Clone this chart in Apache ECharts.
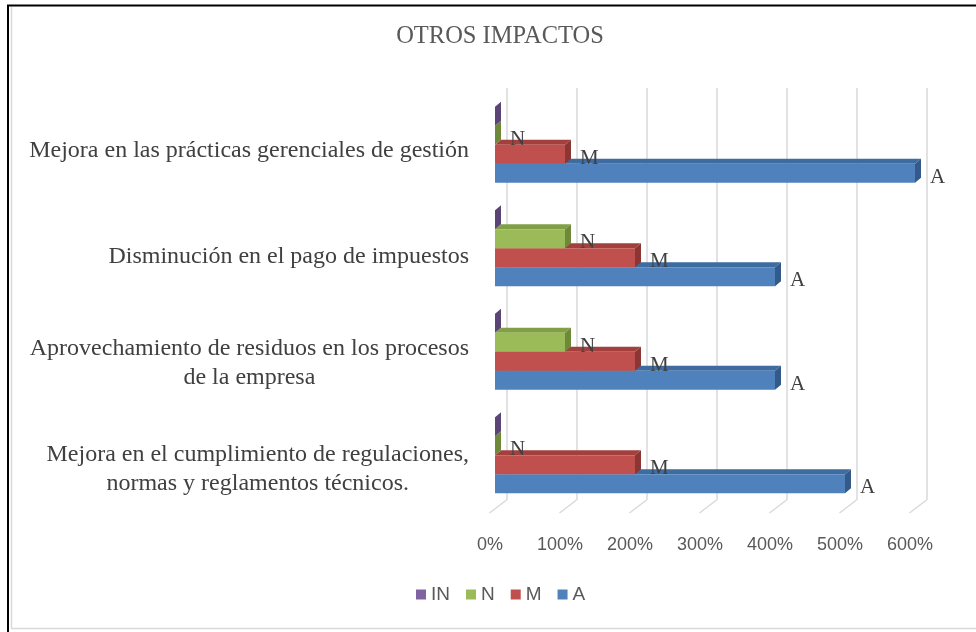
<!DOCTYPE html>
<html>
<head>
<meta charset="utf-8">
<script src="https://cdn.jsdelivr.net/npm/echarts@6/dist/echarts.min.js"></script>
<style>
  html, body { margin: 0; padding: 0; background: #ffffff; }
  #chart { width: 976px; height: 632px; }
</style>
</head>
<body>
<div id="chart"></div>
<script>
// Categories, listed top to bottom
const categories = [
  'Mejora en las prácticas gerenciales de gestión',
  'Disminución en el pago de impuestos',
  'Aprovechamiento de residuos en los procesos\nde la empresa',
  'Mejora en el cumplimiento de regulaciones,\nnormas y reglamentos técnicos.'
];

// Series values (percent)
const seriesIN = [0, 0, 0, 0];
const seriesN = [0, 100, 100, 0];
const seriesM = [100, 200, 200, 200];
const seriesA = [600, 400, 400, 500];

// Value axis ticks
const tickValues = [0, 100, 200, 300, 400, 500, 600];

// 3D bar look
const DEPTH_X = 6;
const DEPTH_Y = 5;
const BAR_FRAC = 19 / 103.5;

const palette = {
  IN: { front: '#8064A2', top: '#6A518A', side: '#5A4576' },
  N:  { front: '#9BBB59', top: '#819F45', side: '#6E893A' },
  M:  { front: '#C0504D', top: '#A3403D', side: '#8C3633' },
  A:  { front: '#4F81BD', top: '#3E6BA0', side: '#335A88' }
};

const serifFont = '"Liberation Serif", "Times New Roman", serif';
const sansFont = '"Liberation Sans", Arial, sans-serif';

function barRenderer(slot, colors, label) {
  return function (params, api) {
    const val = api.value(0);
    const cat = api.value(1);
    const p0 = api.coord([0, cat]);
    const p1 = api.coord([val, cat]);
    const band = api.size([0, 1])[1];
    const h = band * BAR_FRAC;
    const y = p0[1] - 2 * h + slot * h;
    const x0 = p0[0];
    const x1 = p1[0];
    const children = [
      {
        type: 'polygon',
        shape: { points: [[x0, y], [x1, y], [x1 + DEPTH_X, y - DEPTH_Y], [x0 + DEPTH_X, y - DEPTH_Y]] },
        style: { fill: colors.top }
      },
      {
        type: 'polygon',
        shape: { points: [[x1, y], [x1 + DEPTH_X, y - DEPTH_Y], [x1 + DEPTH_X, y + h - DEPTH_Y], [x1, y + h]] },
        style: { fill: colors.side }
      },
      {
        type: 'rect',
        shape: { x: x0, y: y, width: x1 - x0, height: h },
        style: { fill: colors.front }
      }
    ];
    if (label) {
      children.push({
        type: 'text',
        x: x1 + DEPTH_X + 9,
        y: y + h / 2 + 4,
        style: {
          text: label,
          fill: '#404040',
          font: '21px ' + serifFont,
          align: 'left',
          verticalAlign: 'middle'
        }
      });
    }
    return { type: 'group', children: children };
  };
}

function barSeries(name, values, slot, label, z) {
  return {
    name: name,
    type: 'custom',
    xAxisIndex: 0,
    yAxisIndex: 0,
    z: z,
    itemStyle: { color: palette[name].front },
    renderItem: barRenderer(slot, palette[name], label),
    encode: { x: 0, y: 1 },
    data: values.map((v, i) => [v, i])
  };
}

const chart = echarts.init(document.getElementById('chart'), null, { renderer: 'canvas' });

chart.setOption({
  animation: false,
  backgroundColor: '#ffffff',
  title: {
    text: 'OTROS IMPACTOS',
    left: 500,
    top: 24,
    textAlign: 'center',
    padding: 0,
    textStyle: { fontFamily: serifFont, fontSize: 24.5, fontWeight: 'normal', color: '#595959' }
  },
  legend: {
    top: 585,
    left: 416,
    padding: 0,
    icon: 'rect',
    itemWidth: 10,
    itemHeight: 10,
    itemGap: 16,
    textStyle: { fontFamily: sansFont, fontSize: 19, color: '#595959' },
    data: ['IN', 'N', 'M', 'A']
  },
  grid: [
    // bar front plane
    { left: 495, top: 93, width: 420, height: 414 },
    // back wall
    { left: 506.5, top: 88, width: 420, height: 412 },
    // floor front edge
    { left: 490, top: 99, width: 420, height: 414 },
    // category labels
    { left: 495, top: 98, width: 420, height: 424 }
  ],
  xAxis: [
    { gridIndex: 0, type: 'value', min: 0, max: 600, interval: 100, show: false },
    {
      gridIndex: 1, type: 'value', min: 0, max: 600, interval: 100,
      axisLine: { show: false }, axisTick: { show: false }, axisLabel: { show: false },
      splitLine: { show: true, lineStyle: { color: '#D9D9D9', width: 1.5 } }
    },
    {
      gridIndex: 2, type: 'value', min: 0, max: 600, interval: 100,
      axisLine: { show: false }, axisTick: { show: false }, splitLine: { show: false },
      axisLabel: {
        margin: 23,
        fontFamily: sansFont, fontSize: 18, color: '#595959',
        formatter: (v) => v + '%'
      }
    },
    { gridIndex: 3, type: 'value', min: 0, max: 600, show: false }
  ],
  yAxis: [
    { gridIndex: 0, type: 'category', data: categories, inverse: true, show: false },
    { gridIndex: 1, type: 'value', min: 0, max: 1, show: false },
    { gridIndex: 2, type: 'category', data: categories, inverse: true, show: false },
    {
      gridIndex: 3, type: 'category', data: categories, inverse: true,
      axisLine: { show: false }, axisTick: { show: false }, splitLine: { show: false },
      axisLabel: {
        margin: 26,
        align: 'right',
        formatter: (v) => v.split('\n').map((line) => '{c|' + line + '}').join('\n'),
        rich: {
          c: { align: 'center', fontFamily: serifFont, fontSize: 24, lineHeight: 29, color: '#404040' }
        }
      }
    }
  ],
  graphic: [
    { type: 'line', shape: { x1: 7, y1: 5.5, x2: 976, y2: 5.5 }, style: { stroke: '#000000', lineWidth: 2 }, z: 100 },
    { type: 'line', shape: { x1: 8, y1: 5, x2: 8, y2: 632 }, style: { stroke: '#000000', lineWidth: 2 }, z: 100 },
    { type: 'line', shape: { x1: 11.5, y1: 7, x2: 11.5, y2: 628 }, style: { stroke: '#D9D9D9', lineWidth: 1.5 }, z: 100 },
    { type: 'line', shape: { x1: 11, y1: 628.5, x2: 976, y2: 628.5 }, style: { stroke: '#D9D9D9', lineWidth: 1.5 }, z: 100 }
  ],
  series: [
    // floor ticks joining back wall to the front edge
    {
      type: 'custom',
      xAxisIndex: 1,
      yAxisIndex: 1,
      silent: true,
      z: 1,
      encode: { x: 0, y: 1 },
      data: tickValues.map((v) => [v, 0]),
      renderItem: function (params, api) {
        const p = api.coord([api.value(0), api.value(1)]);
        return {
          type: 'line',
          shape: { x1: p[0], y1: p[1], x2: p[0] - 17, y2: p[1] + 13 },
          style: { stroke: '#D9D9D9', lineWidth: 1.5 }
        };
      }
    },
    barSeries('IN', seriesIN, 0, null, 6),
    barSeries('N', seriesN, 1, 'N', 5),
    barSeries('M', seriesM, 2, 'M', 4),
    barSeries('A', seriesA, 3, 'A', 3)
  ]
});
</script>
</body>
</html>
